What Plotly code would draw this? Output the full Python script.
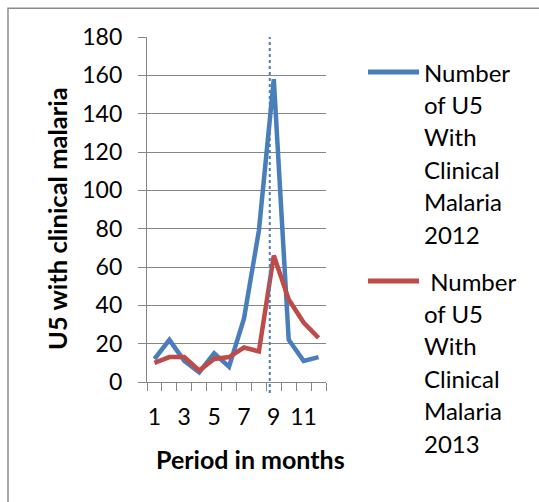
import plotly.graph_objects as go

months = list(range(1, 13))
cases_2012 = [12, 22, 11, 5, 15, 8, 33, 79, 158, 22, 11, 13]
cases_2013 = [10, 13, 13, 6, 12, 13, 18, 16, 66, 43, 31, 23]
name_2012 = "Number of U5 With Clinical Malaria 2012"
name_2013 = "Number of U5 With Clinical Malaria 2013"
legend_lines_2012 = ["Number", "of U5", "With", "Clinical", "Malaria", "2012"]
legend_lines_2013 = [" Number", "of U5", "With", "Clinical", "Malaria", "2013"]
x_tick_labels = ["1", "3", "5", "7", "9", "11"]
y_ticks = list(range(0, 181, 20))
x_title = "Period in months"
y_title = "U5 with clinical malaria"

BLUE = "#4A7EBB"
RED = "#BE4B48"
GRID = "#868686"
FONT = "Lato"

W, H = 539, 502
L, R, T, B = 147, 326, 37, 382


def px_x(p):
    return (p - L) / (R - L)


def px_y(p):
    return (B - p) / (B - T)


fig = go.Figure()
fig.add_trace(go.Scatter(x=months, y=cases_2012, mode="lines", name=name_2012,
                         line=dict(color=BLUE, width=4.5), xaxis="x", yaxis="y"))
fig.add_trace(go.Scatter(x=months, y=cases_2013, mode="lines", name=name_2013,
                         line=dict(color=RED, width=4.5), xaxis="x", yaxis="y"))
# invisible trace to carry the label axis
fig.add_trace(go.Scatter(x=months, y=cases_2012, mode="lines", line=dict(width=0),
                         opacity=0, hoverinfo="skip", showlegend=False, xaxis="x2", yaxis="y"))

fig.update_layout(
    width=W, height=H,
    margin=dict(l=L, r=W - R, t=T, b=H - B, pad=0, autoexpand=False),
    paper_bgcolor="white", plot_bgcolor="white",
    showlegend=False,
    font=dict(family=FONT, size=23, color="black"),
    xaxis=dict(
        range=[0.5, 12.5], tickmode="array",
        tickvals=[m + 0.5 for m in [0] + months], ticktext=[""] * 13,
        ticks="outside", ticklen=8, tickcolor=GRID, tickwidth=1.3,
        showgrid=False, zeroline=False, showline=True, linecolor=GRID, linewidth=1.3,
        automargin=False, fixedrange=True,
    ),
    xaxis2=dict(
        range=[0.5, 12.5], overlaying="x", anchor="y", side="bottom",
        tickmode="array", tickvals=[int(t) for t in x_tick_labels], ticktext=x_tick_labels,
        ticks="outside", ticklen=14, tickcolor="rgba(0,0,0,0)",
        showgrid=False, zeroline=False, showline=False, automargin=False,
        tickfont=dict(family=FONT, size=23),
    ),
    yaxis=dict(
        range=[0, 180], tickmode="array", tickvals=y_ticks,
        ticks="outside", ticklen=8, tickcolor=GRID, tickwidth=1.3,
        ticklabelstandoff=11,
        showgrid=True, gridcolor=GRID, gridwidth=1.3, zeroline=False,
        showline=True, linecolor=GRID, linewidth=1.3, automargin=False,
        tickfont=dict(family=FONT, size=23),
    ),
)

# axis titles
fig.add_annotation(xref="paper", yref="paper", x=px_x(250), y=px_y(459),
                   text="<b>" + x_title + "</b>", showarrow=False,
                   xanchor="center", yanchor="middle", font=dict(family=FONT, size=25))
fig.add_annotation(xref="paper", yref="paper", x=px_x(57), y=px_y(219),
                   text="<b>" + y_title + "</b>", showarrow=False, textangle=-90,
                   xanchor="center", yanchor="middle", font=dict(family=FONT, size=25.5))

# dotted reference line near month 9
fig.add_shape(type="line", xref="x", yref="paper", x0=8.73, x1=8.73,
              y0=px_y(393), y1=1.0, line=dict(color=BLUE, width=2, dash="dot"))

# outer frame
fig.add_shape(type="rect", xref="paper", yref="paper",
              x0=px_x(8), x1=px_x(560), y0=px_y(520), y1=px_y(8.3),
              line=dict(color="#8A8A8A", width=1.5), fillcolor="rgba(0,0,0,0)", layer="below")

# manual legend
def legend_block(lines, color, y_first, text_x):
    fig.add_shape(type="line", xref="paper", yref="paper",
                  x0=px_x(368), x1=px_x(419), y0=px_y(y_first), y1=px_y(y_first),
                  line=dict(color=color, width=5))
    for i, t in enumerate(lines):
        fig.add_annotation(xref="paper", yref="paper", x=px_x(text_x), y=px_y(y_first + i * 32.4),
                           text=t.replace(" ", "&nbsp;"), showarrow=False, xanchor="left", yanchor="middle",
                           font=dict(family=FONT, size=24, color="black"))

legend_block(legend_lines_2012, BLUE, 72, 422)
legend_block(legend_lines_2013, RED, 281, 422)

fig.write_html("out.html", config={"displayModeBar": False})

# remove the browser's default 8px page margin so the figure sits at the top-left corner
with open("out.html", "r", encoding="utf-8") as f:
    html = f.read()
html = html.replace("<body>", '<body style="margin:0;padding:0;overflow:hidden">', 1)
with open("out.html", "w", encoding="utf-8") as f:
    f.write(html)
